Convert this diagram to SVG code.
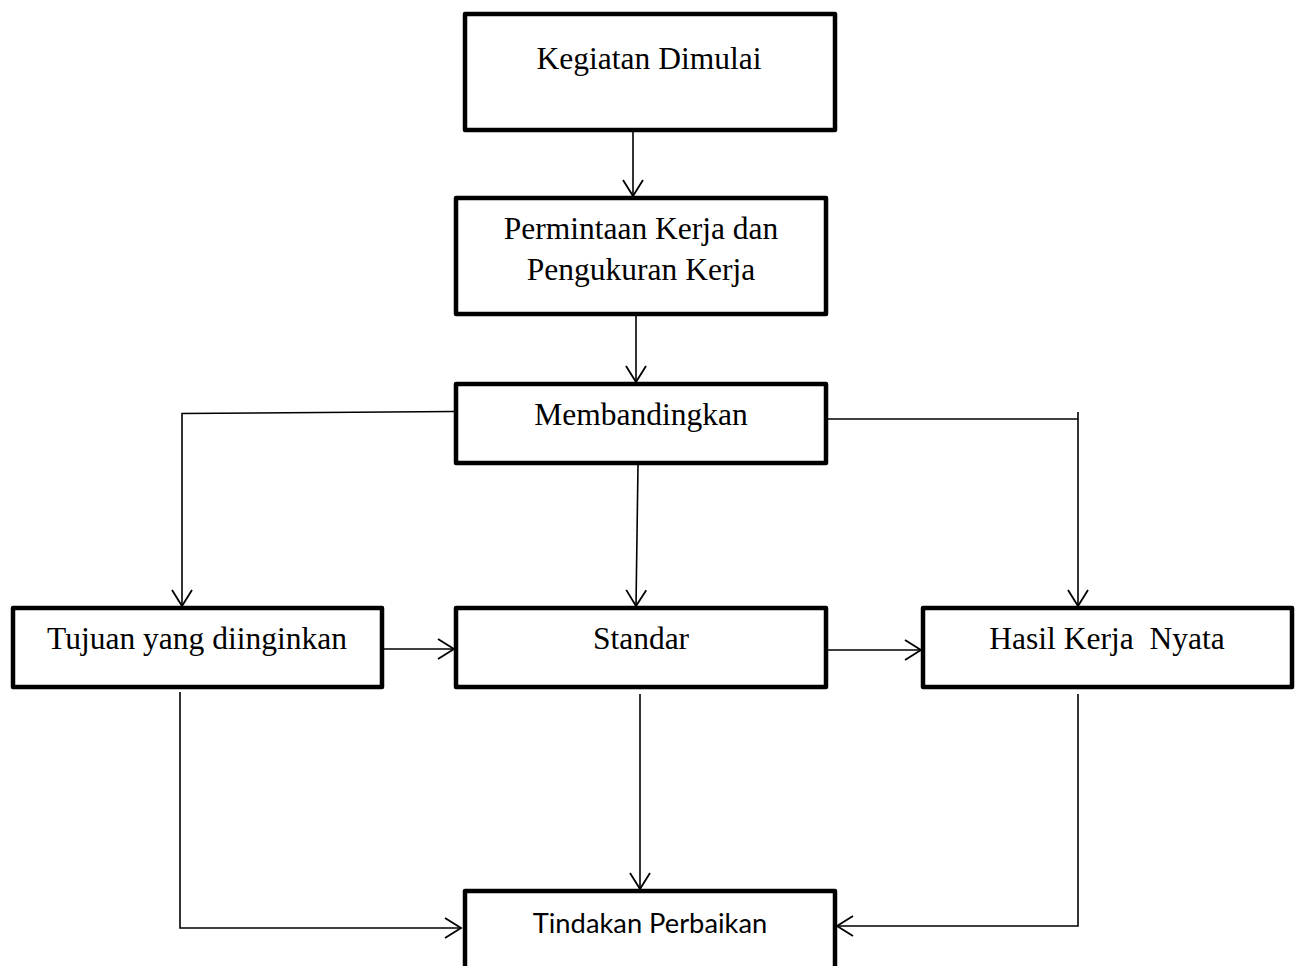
<svg xmlns="http://www.w3.org/2000/svg" width="1298" height="966" viewBox="0 0 1298 966">
  <style>
    .box { fill: #ffffff; stroke: #000000; stroke-width: 4.5; stroke-linejoin: round; }
    .t { font-family: "Liberation Serif", "Times New Roman", serif; font-size: 31.5px; fill: #000; text-anchor: middle; }
    .s { font-family: Lato, "Open Sans", "Liberation Sans", sans-serif; font-size: 27.3px; fill: #000; text-anchor: middle; }
    .c { fill: none; stroke: #000; stroke-width: 1.6; }
  </style>
  <defs>
    <marker id="arr" markerUnits="userSpaceOnUse" markerWidth="20" markerHeight="24" refX="16" refY="10" orient="auto" viewBox="0 0 20 20" overflow="visible">
      <path d="M0,0 L16,10 L0,20" fill="none" stroke="#000" stroke-width="1.8"/>
    </marker>
  </defs>
  <rect width="1298" height="966" fill="#ffffff"/>

  <g id="connectors">
    <line class="c" x1="633" y1="132" x2="633" y2="196" marker-end="url(#arr)"/>
    <line class="c" x1="636" y1="316" x2="636" y2="382" marker-end="url(#arr)"/>
    <polyline class="c" points="454,411.5 182,413.5 182,606" marker-end="url(#arr)"/>
    <line class="c" x1="828" y1="419" x2="1078" y2="419"/>
    <line class="c" x1="1078" y1="412" x2="1078" y2="606" marker-end="url(#arr)"/>
    <line class="c" x1="638" y1="465" x2="636" y2="606" marker-end="url(#arr)"/>
    <line class="c" x1="376" y1="649" x2="454" y2="649" marker-end="url(#arr)"/>
    <line class="c" x1="828" y1="650" x2="921" y2="650" marker-end="url(#arr)"/>
    <polyline class="c" points="180,692 180,928 461,928" marker-end="url(#arr)"/>
    <line class="c" x1="640" y1="694" x2="640" y2="889" marker-end="url(#arr)"/>
    <polyline class="c" points="1078,694 1078,926 837,926" marker-end="url(#arr)"/>
  </g>

  <g id="kegiatan">
    <rect class="box" x="465" y="14" width="370" height="116"/>
    <text class="t" x="649" y="69">Kegiatan Dimulai</text>
  </g>
  <g id="permintaan">
    <rect class="box" x="456" y="198" width="370" height="116"/>
    <text class="t" x="641" y="239">Permintaan Kerja dan</text>
    <text class="t" x="641" y="280">Pengukuran Kerja</text>
  </g>
  <g id="membandingkan">
    <rect class="box" x="456" y="384" width="370" height="79"/>
    <text class="t" x="641" y="425">Membandingkan</text>
  </g>
  <g id="tujuan">
    <rect class="box" x="13" y="608" width="369" height="79"/>
    <text class="t" x="197" y="649">Tujuan yang diinginkan</text>
  </g>
  <g id="standar">
    <rect class="box" x="456" y="608" width="370" height="79"/>
    <text class="t" x="641" y="649">Standar</text>
  </g>
  <g id="hasil">
    <rect class="box" x="923" y="608" width="369" height="79"/>
    <text class="t" x="1107" y="649" xml:space="preserve">Hasil Kerja  Nyata</text>
  </g>
  <g id="tindakan">
    <rect class="box" x="465" y="891" width="370" height="100"/>
    <text class="s" x="650" y="933">Tindakan Perbaikan</text>
  </g>
</svg>
